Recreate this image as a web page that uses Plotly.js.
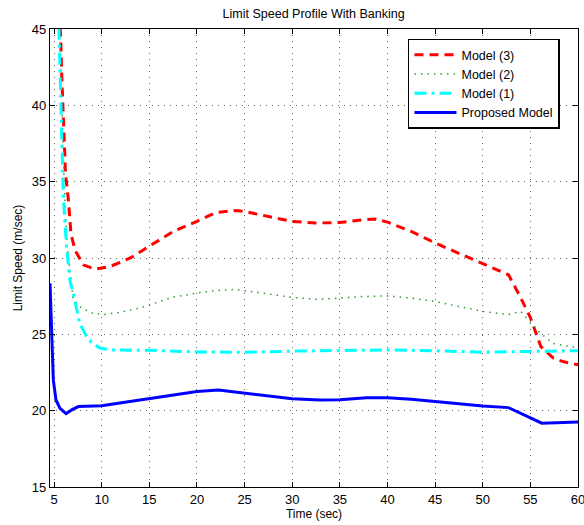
<!DOCTYPE html>
<html>
<head>
<meta charset="utf-8">
<script src="https://cdn.plot.ly/plotly-3.0.1.min.js"></script>
<style>html,body{margin:0;padding:0;background:#fff;}#chart{width:584px;height:525px;}</style>
</head>
<body>
<div id="chart"></div>
<script>
const xTicks = [5,10,15,20,25,30,35,40,45,50,55,60];
const yTicks = [15,20,25,30,35,40,45];

const model3X = [5.2, 5.7, 5.8, 5.9, 6.05, 6.2, 6.5, 6.77, 7.2, 8.07, 9.3, 10.9, 13, 15, 17.5, 20, 22, 24, 25, 27.5, 30, 32.5, 35, 37.5, 38.7, 40, 42.5, 45, 47.5, 50, 51.5, 52.7, 53.9, 55, 56.1, 57.4, 58.5, 60];
const model3Y = [50, 44.4, 42, 40.2, 38.1, 35.5, 33.8, 31.6, 30.5, 29.55, 29.27, 29.45, 30.0, 30.75, 31.74, 32.4, 32.98, 33.11, 33.05, 32.72, 32.4, 32.29, 32.33, 32.5, 32.55, 32.35, 31.74, 30.98, 30.3, 29.6, 29.2, 28.9, 27.5, 26.1, 24.2, 23.45, 23.2, 23.0];

const model2X = [5.35, 5.6, 5.8, 6.05, 6.35, 6.7, 6.85, 7.0, 7.7, 8.95, 10.2, 12, 14, 15, 17.5, 20, 22, 24, 25, 27.5, 30, 32.5, 35, 37.5, 40, 42.5, 45, 47.5, 50, 52.7, 54, 56, 57.4, 60];
const model2Y = [50, 44.5, 40.2, 35, 31, 29, 28.35, 27.25, 26.8, 26.4, 26.3, 26.45, 26.72, 26.93, 27.44, 27.7, 27.87, 27.94, 27.87, 27.65, 27.41, 27.3, 27.37, 27.48, 27.52, 27.37, 27.15, 26.8, 26.5, 26.3, 26.5, 25.1, 24.4, 24.1];

const model1X = [5.3, 5.5, 5.72, 5.97, 6.3, 6.67, 7.0, 7.7, 8.6, 9.8, 11, 15, 20, 25, 30, 35, 40, 45, 50, 55, 60];
const model1Y = [50, 45, 40, 34, 30.8, 28.5, 27.7, 25.7, 24.64, 24.1, 23.98, 23.95, 23.85, 23.82, 23.9, 23.92, 23.98, 23.92, 23.83, 23.88, 23.93];

const proposedX = [4.57, 4.75, 4.92, 5.2, 5.62, 6.25, 6.85, 7.55, 9.1, 10, 11.9, 15, 20, 22.25, 25, 27.5, 30, 32.9, 35, 37.8, 40, 42.5, 45.2, 47.5, 50, 52.7, 56.2, 60];
const proposedY = [28.35, 24.85, 22.0, 20.7, 20.15, 19.8, 20.05, 20.27, 20.3, 20.33, 20.5, 20.8, 21.25, 21.36, 21.15, 20.95, 20.78, 20.7, 20.72, 20.85, 20.85, 20.75, 20.6, 20.45, 20.3, 20.2, 19.18, 19.25];

const FONT = '"Liberation Sans", Arial, Helvetica, sans-serif';

const traces = [
  {x: model3X, y: model3Y, name: 'Model (3)', mode: 'lines', line: {color: '#ff0000', width: 3, dash: '9px,6px'}},
  {x: model2X, y: model2Y, name: 'Model (2)', mode: 'lines', line: {color: '#339933', width: 1.5, dash: '1.5px,5px'}},
  {x: model1X, y: model1Y, name: 'Model (1)', mode: 'lines', line: {color: '#00ffff', width: 3, dash: '12px,5px,3px,5px'}},
  {x: proposedX, y: proposedY, name: 'Proposed Model', mode: 'lines', line: {color: '#0000ff', width: 3}}
];

const axisCommon = {
  showline: true, linecolor: '#000', linewidth: 1.2, mirror: 'ticks',
  ticks: 'inside', ticklen: 5, tickcolor: '#000', tickwidth: 1,
  showgrid: true, gridcolor: '#666', gridwidth: 1, griddash: '1px,5px',
  zeroline: false, ticklabeloverflow: 'allow',
  tickfont: {family: FONT, size: 13, color: '#000'}
};

const layout = {
  width: 584, height: 525,
  margin: {l: 50, r: 6, t: 29, b: 38},
  paper_bgcolor: '#fff', plot_bgcolor: '#fff',
  title: {text: 'Limit Speed Profile With Banking', font: {family: FONT, size: 12.5, color: '#000'}, x: 0.537, xanchor: 'center', y: 0.975, yanchor: 'middle'},
  xaxis: Object.assign({}, axisCommon, {range: [4.57, 60], tickvals: xTicks, ticktext: xTicks.map(String),
    title: {text: 'Time (sec)', font: {family: FONT, size: 12, color: '#000'}, standoff: 2}}),
  yaxis: Object.assign({}, axisCommon, {range: [15, 45], tickvals: yTicks, ticktext: yTicks.map(String),
    title: {text: 'Limit Speed (m/sec)', font: {family: FONT, size: 12, color: '#000'}, standoff: 6}}),
  showlegend: true,
  legend: {x: 0.678, y: 0.979, xanchor: 'left', yanchor: 'top', bgcolor: '#fff', bordercolor: '#000', borderwidth: 1.5,
    font: {family: FONT, size: 12.5, color: '#000'}, tracegroupgap: 0, itemwidth: 42}
};

Plotly.newPlot('chart', traces, layout, {displayModeBar: false, staticPlot: true});
</script>
</body>
</html>
